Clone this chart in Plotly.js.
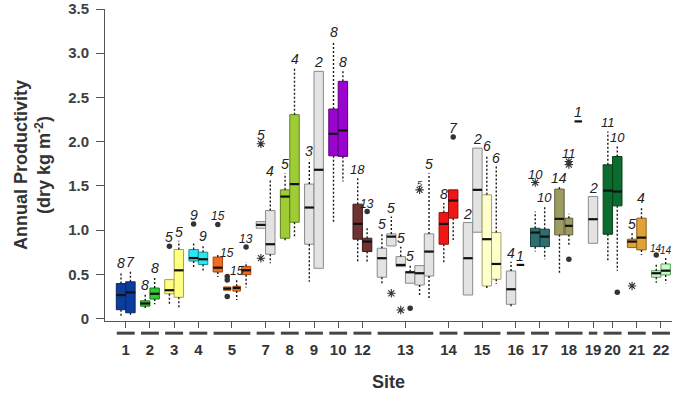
<!DOCTYPE html>
<html><head><meta charset="utf-8">
<script src="https://cdn.plot.ly/plotly-3.0.1.min.js"></script>
<style>html,body{margin:0;padding:0;background:#fff}#chart{width:674px;height:393px}</style>
</head><body><div id="chart"></div>
<script>
// ---------------- DATA ----------------
const sites = ["1","2","3","4","5","7","8","9","10","12","13","14","15","16","17","18","19","20","21","22"];
const boxesPerSite = [2,2,2,2,4,2,2,2,2,2,6,2,4,2,2,3,1,2,2,2];
const boxIds = ["1a","1b","2a","2b","3a","3b","4a","4b","5a","5b","5c","5d","7a","7b","8a","8b","9a","9b","10a","10b",
  "12a","12b","13a","13b","13c","13d","13e","13f","14a","14b","15a","15b","15c","15d","16a","16b","17a","17b",
  "18a","18b","18c","19a","20a","20b","21a","21b","22a","22b"];
const nObs = [8,7,8,8,5,5,9,9,15,15,15,13,5,4,5,4,3,2,8,8,18,13,5,5,5,5,5,5,8,7,2,2,6,6,4,1,10,10,14,11,1,2,11,10,5,4,14,14];
const whiskerLow = [0.02,0.04,0.12,0.16,0.15,0.11,0.575,0.53,0.47,null,0.21,0.35,null,0.625,0.87,0.92,0.417,null,1.085,1.549,
  0.625,0.643,0.379,null,null,null,0.266,0.217,0.617,0.889,null,null,0.323,0.391,0.116,null,0.757,0.67,
  0.519,0.821,null,null,0.651,0.541,null,0.719,0.405,0.399];
const q1 = [0.10,0.065,0.14,0.22,0.28,0.24,0.65,0.61,0.526,0.32,0.31,0.496,1.021,0.727,0.908,1.089,0.84,0.568,1.84,1.833,
  0.897,0.757,0.467,0.821,0.587,0.399,0.379,0.481,0.84,1.135,0.266,0.976,0.368,0.444,0.161,null,0.813,0.813,
  0.946,0.946,null,0.851,0.953,1.274,0.802,0.776,0.467,0.493];
const median = [0.265,0.295,0.17,0.28,0.32,0.545,0.684,0.67,0.575,0.338,0.346,0.545,1.059,0.84,1.379,1.52,1.255,1.682,2.089,2.127,
  1.07,0.87,0.682,0.926,0.606,0.523,0.512,0.757,1.07,1.334,0.682,1.455,0.897,0.617,0.331,0.606,0.972,0.926,
  1.127,1.048,2.229,1.123,1.447,1.436,0.87,0.915,0.512,0.541];
const q3 = [0.395,0.415,0.20,0.345,0.44,0.78,0.78,0.75,0.695,0.357,0.365,0.59,1.096,1.221,1.455,2.305,1.52,2.795,2.369,2.682,
  1.293,0.908,0.795,0.957,0.70,0.53,0.598,0.957,1.198,1.455,1.085,1.927,1.399,0.972,0.538,null,1.021,1.01,
  1.463,1.135,null,1.379,1.738,1.832,0.897,1.135,0.541,0.617];
const whiskerHigh = [0.525,0.53,0.28,0.47,null,0.88,0.865,0.83,0.74,null,0.45,0.64,null,1.568,1.644,2.833,1.795,null,3.135,2.795,
  1.588,1.021,0.965,1.153,0.813,0.606,null,1.644,1.305,null,null,null,1.852,1.719,0.643,null,1.21,1.274,
  1.486,1.184,null,null,2.115,1.946,0.965,1.266,0.625,0.693];
// outliers drawn as dots / as asterisks
const dotBox   = ["3a","4a","5a","5b","5b","5b","5d","12b","13d","14b","18b","20b","22a"];
const dotValue = [0.816,1.07,1.064,0.475,0.435,0.25,0.81,1.21,0.116,2.052,0.67,0.297,0.719];
const starBox   = ["7a","7a","13b","13c","13e","17a","18b","18b","21a"];
const starValue = [1.976,0.682,0.285,0.096,1.455,1.538,1.74,1.775,0.368];
const yTickVals = [0,0.5,1,1.5,2,2.5,3,3.5];
const yTickText = ["0","0.5","1.0","1.5","2.0","2.5","3.0","3.5"];

// ---------------- STYLE ----------------
const FONT = "Liberation Sans, Arial, Helvetica, sans-serif";
const GRAY = ["#e3e3e3","#8a8a8a"];
const sitePalette = {
  "1":["#0b3d9c","#0a2766"],"2":["#2fcc2f","#1b7a1b"],"3":["#ffff85","#a3a345"],"4":["#26e8f2","#178a90"],
  "5":["#f26b1d","#a44912"],"7":GRAY,"8":["#9dcc35","#5f7f1f"],"9":GRAY,"10":["#9b04cf","#5c0080"],
  "12":["#6e3232","#3e1a1a"],"13":GRAY,"14":["#f01616","#901010"],"15":GRAY,"16":GRAY,"17":["#2f6e6e","#183f3f"],
  "18":["#9c9c62","#5c5c36"],"19":GRAY,"20":["#0c6b2f","#053f18"],"21":["#e2a235","#8a6020"],"22":["#c9f8c9","#5f9f5f"]
};
const boxPaletteOverride = {"15c":["#ffffcc","#a3a366"],"15d":["#ffffcc","#a3a366"]};
const narrowBoxes = {"5b":0.78,"5c":0.8,"18b":0.82};
const labelSize = {"5a":12,"5b":12,"5c":12,"5d":12,"12a":13,"12b":12,"13e":9,"17a":13,"17b":13,"18b":13,"20a":13,"20b":13,"22a":10,"22b":10};
const labelLiftPx = {"5b":16, "1b":1};
const GAP = 0.57;      // gap between site groups, in box slots
const BOXW = 1.0;

// ---------------- POSITIONS (derived) ----------------
const pos = [], siteOfBox = [], groupCenters = [], groupSpans = [];
let k = 0;
sites.forEach((s, gi) => {
  const start = k + gi * GAP;
  for (let j = 0; j < boxesPerSite[gi]; j++) { pos.push(k + gi * GAP); siteOfBox.push(s); k++; }
  const end = pos[pos.length - 1];
  groupCenters.push((start + end) / 2);
  groupSpans.push([start - BOXW / 2, end + BOXW / 2]);
});
const idx = id => boxIds.indexOf(id);

// ---------------- TRACES ----------------
const traces = [];
boxIds.forEach((id, i) => {
  if (q1[i] === null) return;
  const pal = boxPaletteOverride[id] || sitePalette[siteOfBox[i]];
  traces.push({
    type: "box", orientation: "v", x: [pos[i]],
    q1: [q1[i]], median: [median[i]], q3: [q3[i]], lowerfence: [q1[i]], upperfence: [q3[i]],
    width: narrowBoxes[id] || BOXW, fillcolor: pal[0], line: {color: pal[1], width: 1},
    whiskerwidth: 0, hoverinfo: "skip", showlegend: false
  });
});
// whiskers
const wx = [], wy = [];
boxIds.forEach((id, i) => {
  const lowBase = q1[i] === null ? median[i] : q1[i];
  const highBase = q3[i] === null ? median[i] : q3[i];
  if (whiskerLow[i] !== null) { wx.push(pos[i], pos[i], null); wy.push(lowBase, whiskerLow[i], null); }
  if (whiskerHigh[i] !== null) { wx.push(pos[i], pos[i], null); wy.push(highBase, whiskerHigh[i], null); }
});
traces.push({type: "scatter", mode: "lines", x: wx, y: wy, line: {color: "#1a1a1a", width: 1.4, dash: "2px,2px"}, hoverinfo: "skip", showlegend: false});
// medians
const mx = [], my = [];
boxIds.forEach((id, i) => {
  const hw = (q1[i] === null ? 0.8 : (narrowBoxes[id] || BOXW)) / 2;
  mx.push(pos[i] - hw, pos[i] + hw, null); my.push(median[i], median[i], null);
});
traces.push({type: "scatter", mode: "lines", x: mx, y: my, line: {color: "#111", width: 2.2}, hoverinfo: "skip", showlegend: false});
// outliers
traces.push({type: "scatter", mode: "markers", x: dotBox.map(b => pos[idx(b)]), y: dotValue,
  marker: {symbol: "circle", size: 5.5, color: "#333"}, hoverinfo: "skip", showlegend: false});
traces.push({type: "scatter", mode: "markers", x: starBox.map(b => pos[idx(b)]), y: starValue,
  marker: {symbol: "asterisk-open", size: 7, color: "#333", line: {color: "#333", width: 1.1}}, hoverinfo: "skip", showlegend: false});

// ---------------- ANNOTATIONS (n labels) ----------------
const annotations = boxIds.map((id, i) => {
  const cand = [whiskerHigh[i], q3[i], median[i]];
  dotBox.forEach((b, j) => { if (b === id) cand.push(dotValue[j]); });
  starBox.forEach((b, j) => { if (b === id) cand.push(starValue[j]); });
  const top = Math.max(...cand.filter(v => v !== null));
  return {x: pos[i], y: top, xref: "x", yref: "y", text: String(nObs[i]), showarrow: false,
    yanchor: "bottom", yshift: -1 + (labelLiftPx[id] || 0),
    font: {family: FONT, size: labelSize[id] || 14, color: "#222", style: "italic"}};
});

const shapes = groupSpans.map(sp => ({type: "line", xref: "x", yref: "paper", x0: sp[0] + 0.05, x1: sp[1] - 0.05,
  y0: -0.039, y1: -0.039, line: {color: "#454545", width: 3}}));

const layout = {
  width: 674, height: 393, margin: {l: 105, r: 2, t: 9, b: 72},
  paper_bgcolor: "#fff", plot_bgcolor: "#fff", showlegend: false,
  xaxis: {range: [-1.7, 58.5], showline: true, linecolor: "#555", linewidth: 1, showgrid: false, zeroline: false,
    ticks: "outside", ticklen: 6, tickcolor: "#555", tickvals: groupCenters, ticktext: sites,
    tickfont: {family: FONT, size: 15, color: "#333", weight: "bold"}, ticklabelstandoff: 9,
    title: {text: "Site", font: {family: FONT, size: 18, color: "#333", weight: "bold"}, standoff: 18}, fixedrange: true},
  yaxis: {range: [-0.028, 3.5], showline: true, linecolor: "#555", linewidth: 1, showgrid: false, zeroline: false,
    ticks: "outside", ticklen: 8, tickcolor: "#555", tickvals: yTickVals, ticktext: yTickText,
    tickfont: {family: FONT, size: 15, color: "#404040", weight: "bold"}, ticklabelstandoff: 4,
    title: {text: "Annual Productivity<br>(dry kg m<sup>-2</sup>)", font: {family: FONT, size: 18, color: "#333", weight: "bold"}, standoff: 12},
    fixedrange: true},
  shapes: shapes, annotations: annotations, boxmode: "overlay"
};
Plotly.newPlot("chart", traces, layout, {displayModeBar: false, staticPlot: true});
</script></body></html>
